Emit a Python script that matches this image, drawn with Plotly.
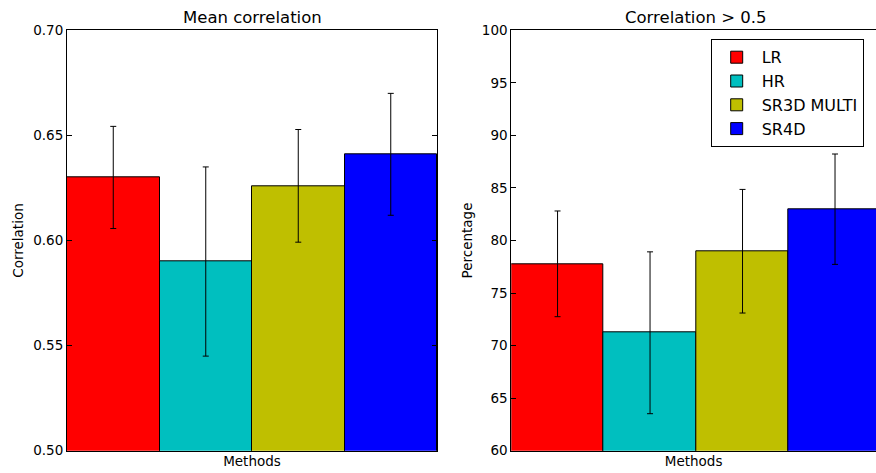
import plotly.graph_objects as go

methods = ["LR", "HR", "SR3D MULTI", "SR4D"]
colors = ["#ff0000", "#00bfbf", "#bfbf00", "#0000ff"]
mean_corr = [0.630, 0.590, 0.626, 0.641]
mean_corr_err = [0.0243, 0.045, 0.0268, 0.029]
pct_above = [77.78, 71.22, 78.98, 82.98]
pct_above_err = [5.03, 7.7, 5.88, 5.25]

W, H = 876, 473
FONT = "DejaVu Sans"

fig = go.Figure()

for i, m in enumerate(methods):
    fig.add_trace(go.Bar(
        x=[i], y=[mean_corr[i]], width=1, name=m, legendgroup=m, showlegend=False,
        marker=dict(color=colors[i], line=dict(color="black", width=1)),
        error_y=dict(type="data", array=[mean_corr_err[i]], color="black", thickness=1, width=3),
        xaxis="x", yaxis="y",
    ))
for i, m in enumerate(methods):
    fig.add_trace(go.Bar(
        x=[i], y=[pct_above[i]], width=1, name=m, legendgroup=m, showlegend=True,
        marker=dict(color=colors[i], line=dict(color="black", width=1)),
        error_y=dict(type="data", array=[pct_above_err[i]], color="black", thickness=1, width=3),
        xaxis="x2", yaxis="y2",
    ))

ytop = 30.3
ybot = 450.7
dom_y = [(H - ybot) / H, (H - ytop) / H]

xcommon = dict(showgrid=False, zeroline=False, linecolor="black", linewidth=1, automargin=False)
ycommon = dict(showgrid=False, zeroline=False, linecolor="black", linewidth=1, automargin=False,
               tickfont=dict(family=FONT, size=13.5, color="black"))

fig.update_layout(
    width=W, height=H,
    margin=dict(l=0, r=0, t=0, b=0, autoexpand=False),
    plot_bgcolor="white", paper_bgcolor="white",
    barmode="overlay", bargap=0,
    font=dict(family=FONT, color="black"),
    xaxis=dict(domain=[67 / W, 437 / W], range=[-0.5, 3.5], showticklabels=False, ticks="",
               showline=True, mirror=True, anchor="y",
               title=dict(text="Methods", font=dict(size=13.5), standoff=5), **xcommon),
    yaxis=dict(domain=dom_y, range=[0.5, 0.7], dtick=0.05, tickformat=".2f", ticks="inside",
               ticklen=5, tickcolor="black", showline=True, mirror="ticks", anchor="x",
               title=dict(text="Correlation", font=dict(size=13.5), standoff=6), **ycommon),
    xaxis2=dict(domain=[511.3 / W, 1.0], range=[-0.5, 3.443], showticklabels=False, ticks="",
                showline=True, mirror=True, anchor="y2",
                title=dict(text="Methods", font=dict(size=13.5), standoff=5), **xcommon),
    yaxis2=dict(domain=dom_y, range=[60, 100], dtick=5, ticks="inside", ticklen=5, tickcolor="black",
                showline=True, mirror=False, anchor="x2",
                title=dict(text="Percentage", font=dict(size=13.5), standoff=6), **ycommon),
    legend=dict(x=710.7 / W, y=(H - 39.3) / H, xanchor="left", yanchor="top",
                bgcolor="white", bordercolor="black", borderwidth=1, itemwidth=40,
                entrywidth=112, entrywidthmode="pixels",
                font=dict(family=FONT, size=16, color="black"), traceorder="normal"),
    annotations=[
        dict(text="Mean correlation", x=252 / W, y=(H - 18) / H, xref="paper", yref="paper",
             showarrow=False, font=dict(family=FONT, size=16.5, color="black"), xanchor="center", yanchor="middle"),
        dict(text="Correlation > 0.5", x=696 / W, y=(H - 18) / H, xref="paper", yref="paper",
             showarrow=False, font=dict(family=FONT, size=16.5, color="black"), xanchor="center", yanchor="middle"),
    ],
)

fig.write_html("out.html", config={"displayModeBar": False},
               post_script="document.body.style.margin='0px';")
